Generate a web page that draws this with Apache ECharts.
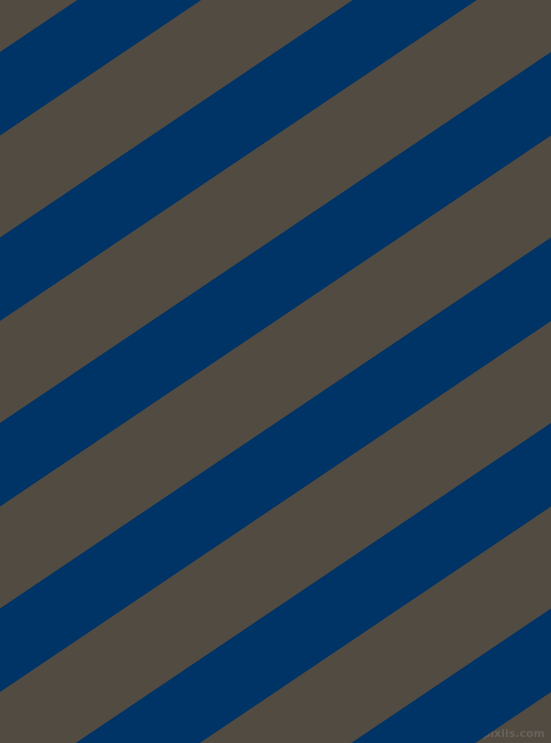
<!DOCTYPE html>
<html>
<head>
<meta charset="utf-8">
<script src="https://cdn.jsdelivr.net/npm/echarts@6/dist/echarts.min.js"></script>
<style>
html,body{margin:0;padding:0;background:#524b41;}
#chart{width:551px;height:743px;}
</style>
</head>
<body>
<div id="chart"></div>
<script>
// Stripe data: y-intercept (at x = 0) of the top edge of each navy stripe
const stripeTops = [-133.5, 52, 237.5, 423, 608.5, 794, 979.5];
// vertical thickness of each navy stripe
const stripeHeights = [83.5, 83.5, 83.5, 83.5, 83.5, 83.5, 83.5];
// vertical drop of an edge across the full width (0 -> 551)
const edgeRise = 371;
const xRange = [0, 551];
const yRange = [0, 743];

const data = stripeTops.map((t, i) => [t, stripeHeights[i]]);

const chart = echarts.init(document.getElementById('chart'), null, {renderer: 'canvas'});
chart.setOption({
  backgroundColor: '#524b41',
  animation: false,
  grid: {left: 0, right: 0, top: 0, bottom: 0},
  xAxis: {type: 'value', min: xRange[0], max: xRange[1], show: false},
  yAxis: {type: 'value', min: yRange[0], max: yRange[1], inverse: true, show: false},
  series: [{
    type: 'custom',
    data: data,
    clip: true,
    renderItem: function (params, api) {
      const top = api.value(0), h = api.value(1);
      const pts = [
        api.coord([xRange[0], top]),
        api.coord([xRange[1], top - edgeRise]),
        api.coord([xRange[1], top - edgeRise + h]),
        api.coord([xRange[0], top + h])
      ];
      return {
        type: 'polygon',
        shape: {points: pts},
        style: {fill: '#003366'}
      };
    }
  }],
  graphic: [{
    type: 'text',
    right: 6,
    bottom: 3,
    style: {
      text: 'pixlis.com',
      fill: 'rgba(140,140,140,0.35)',
      font: 'bold 11px "DejaVu Sans"'
    }
  }]
});
</script>
</body>
</html>
